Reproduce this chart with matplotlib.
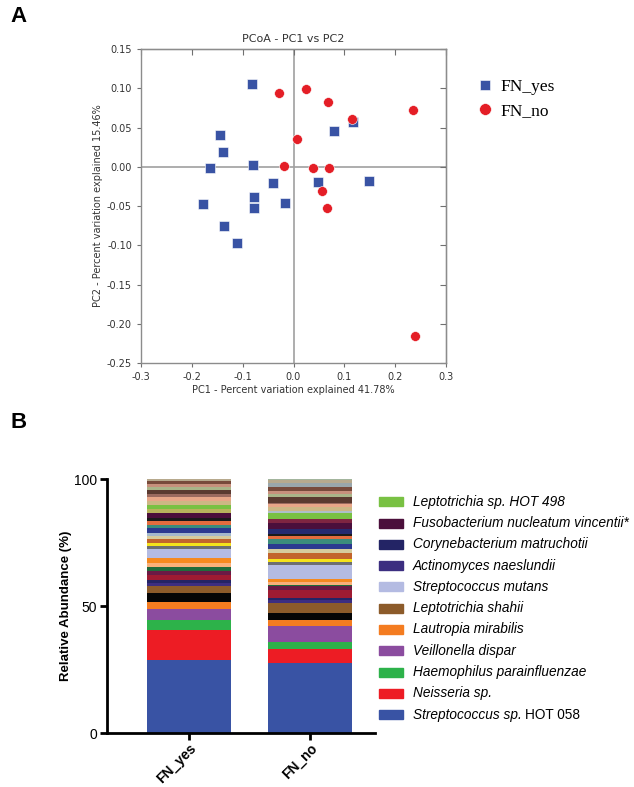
import matplotlib
matplotlib.use('Agg')
import matplotlib.pyplot as plt
from matplotlib.lines import Line2D
from matplotlib.patches import Rectangle

# ---- panel A data (PCoA coordinates) ----
yes_pc1 = [-0.081, -0.144, -0.139, -0.164, -0.080, -0.041, -0.077, -0.078,
           -0.179, -0.017, -0.137, -0.112, 0.080, 0.117, 0.048, 0.149]
yes_pc2 = [0.106, 0.040, 0.019, -0.001, 0.002, -0.021, -0.039, -0.052,
           -0.047, -0.046, -0.076, -0.097, 0.046, 0.057, -0.020, -0.018]
no_pc1 = [-0.028, 0.025, 0.006, -0.019, 0.038, 0.067, 0.115, 0.235,
          0.069, 0.056, 0.066, 0.239]
no_pc2 = [0.094, 0.099, 0.035, 0.001, -0.001, 0.082, 0.061, 0.072,
          -0.002, -0.031, -0.052, -0.215]

# ---- panel B data (relative abundance, stacked from the bottom) ----
groups = ['FN_yes', 'FN_no']
taxa = ['Streptococcus sp. HOT 058', 'Neisseria sp.', 'Haemophilus parainfluenzae',
        'Veillonella dispar', 'Lautropia mirabilis', 'Other 1', 'Leptotrichia shahii',
        'Actinomyces naeslundii', 'Corynebacterium matruchotii', 'Other 2', 'Other 3',
        'Other 4', 'Other 5', 'Other 6', 'Streptococcus mutans', 'Other 7', 'Other 8',
        'Other 9', 'Other 10', 'Other 11', 'Other 12', 'Other 13', 'Other 14', 'Other 15',
        'Other 16', 'Fusobacterium nucleatum vincentii*', 'Other 17', 'Other 18',
        'Leptotrichia sp. HOT 498', 'Other 19', 'Other 20', 'Other 21', 'Other 22',
        'Other 23', 'Other 24', 'Other 25', 'Other 26', 'Other 27', 'Other 28', 'Other 29']
fn_yes = [28.9, 11.6, 4.2, 4.3, 2.8, 3.5, 2.6, 1.3, 1.3, 2.0, 1.3, 1.7, 1.6, 2.0, 3.3,
          1.3, 1.3, 1.3, 1.3, 1.4, 1.9, 1.3, 1.3, 1.1, 0.2, 1.9, 0.2, 1.3, 1.5, 0.2,
          1.4, 1.7, 1.3, 1.3, 1.3, 1.3, 1.3, 0.0, 0.5, 0.0]
fn_no = [27.6, 5.6, 2.8, 6.4, 2.1, 2.9, 3.9, 1.0, 1.0, 3.3, 1.3, 0.6, 1.2, 1.1, 5.6,
         1.0, 1.3, 2.4, 1.3, 0.3, 2.0, 1.6, 1.3, 0.7, 2.0, 2.6, 1.3, 0.2, 2.3, 1.0,
         1.3, 1.3, 0.2, 2.4, 1.3, 1.3, 1.6, 1.3, 1.3, 0.3]
legend_taxa = ['Leptotrichia sp. HOT 498', 'Fusobacterium nucleatum vincentii*',
               'Corynebacterium matruchotii', 'Actinomyces naeslundii',
               'Streptococcus mutans', 'Leptotrichia shahii', 'Lautropia mirabilis',
               'Veillonella dispar', 'Haemophilus parainfluenzae', 'Neisseria sp.',
               'Streptococcus sp. HOT 058']

colors = ['#3953A4', '#ED1C24', '#2DB24A', '#8B4C9F', '#F47C20', '#050505', '#8C5B2A',
          '#3C2E80', '#232465', '#9E1B32', '#6A1A45', '#1F6B3B', '#F9B07A', '#F5891F',
          '#B4BBE2', '#6D6E71', '#F4E21B', '#C2642C', '#D5CB9E', '#A3B8CC', '#2B3990',
          '#3B8C7C', '#E46C3E', '#1B1B1B', '#262A70', '#4B0F3B', '#7F2541', '#B8B45C',
          '#79C143', '#AEBFC9', '#CDB785', '#E8A688', '#9B6A5F', '#5B3A30', '#A9B488',
          '#C7907C', '#784A3B', '#9AA6AA', '#B7A98D', '#A3B59D']

W, H = 634, 787
fig = plt.figure(figsize=(W / 100, H / 100), dpi=100)


def fx(x):
    return x / W


def fy(y):
    return 1 - y / H


# ================= panel A =================
ax = fig.add_axes([fx(141), fy(363), 305 / W, 314 / H])
ax.axhline(0, color='#a0a0a0', lw=1.2, zorder=0)
ax.axvline(0, color='#a0a0a0', lw=1.2, zorder=0)
ax.scatter(yes_pc1, yes_pc2, marker='s', s=42, color='#3953A4', edgecolor='white', lw=0.4, zorder=3)
ax.scatter(no_pc1, no_pc2, marker='o', s=50, color='#E41E26', edgecolor='white', lw=0.4, zorder=3)
ax.set_xlim(-0.3, 0.3)
ax.set_ylim(-0.25, 0.15)
xt = [-0.3, -0.2, -0.1, 0.0, 0.1, 0.2, 0.3]
yt = [-0.25, -0.2, -0.15, -0.1, -0.05, 0.0, 0.05, 0.1, 0.15]
ax.set_xticks(xt)
ax.set_xticklabels(['%.1f' % v for v in xt])
ax.set_yticks(yt)
ax.set_yticklabels(['%.2f' % v for v in yt])
for s in ax.spines.values():
    s.set_color('#8c8c8c')
    s.set_linewidth(1)
ax.tick_params(direction='out', length=3, color='#707070', labelcolor='#333333', labelsize=7)
top = ax.secondary_xaxis('top')
top.set_xticks(xt)
top.tick_params(direction='in', length=4, color='#707070', labeltop=False)
right = ax.secondary_yaxis('right')
right.set_yticks(yt)
right.tick_params(direction='in', length=4, color='#707070', labelright=False)
ax.set_title('PCoA - PC1 vs PC2', fontsize=8, color='#333333', pad=5)
ax.set_xlabel('PC1 - Percent variation explained 41.78%', fontsize=7, color='#333333', labelpad=2)
ax.set_ylabel('PC2 - Percent variation explained 15.46%', fontsize=7, color='#333333', labelpad=3)

handles = [Line2D([], [], ls='', marker='s', ms=7, color='#3953A4', mec='white', mew=0.4),
           Line2D([], [], ls='', marker='o', ms=8.5, color='#E41E26', mec='white', mew=0.4)]
fig.legend(handles, ['FN_yes', 'FN_no'], loc='upper left', bbox_to_anchor=(fx(462), fy(63)),
           frameon=False, handlelength=0.8, handletextpad=0.5, labelspacing=0.45,
           prop={'family': 'Liberation Serif', 'size': 12.5})

# ================= panel B =================
axb = fig.add_axes([fx(106.7), fy(733.3), (375 - 106.7) / W, 254 / H])
x = [0, 1]
bottoms = [0.0, 0.0]
for i in range(len(taxa)):
    vals = [fn_yes[i], fn_no[i]]
    axb.bar(x, vals, bottom=bottoms, width=0.69, color=colors[i], lw=0)
    bottoms = [bottoms[0] + vals[0], bottoms[1] + vals[1]]
axb.set_xlim(-0.673, 1.53)
axb.set_ylim(0, 100)
axb.spines['top'].set_visible(False)
axb.spines['right'].set_visible(False)
axb.spines['left'].set_linewidth(2)
axb.spines['bottom'].set_linewidth(2)
axb.set_yticks([0, 50, 100])
axb.set_xticks(x)
axb.set_xticklabels(groups, rotation=45, ha='right', rotation_mode='anchor',
                    fontweight='bold', fontsize=8.5, family='Liberation Sans')
axb.tick_params(width=2, length=5, labelsize=10)
axb.tick_params(axis='y', pad=2)
axb.tick_params(axis='x', pad=1)
for t in axb.get_yticklabels():
    t.set_family('Liberation Sans')
axb.set_ylabel('Relative Abundance (%)', fontsize=9.5, fontweight='bold',
               family='Liberation Sans', labelpad=1)

# legend for panel B
renderer = fig.canvas.get_renderer()
for k, name in enumerate(legend_taxa):
    yc = 501.7 + k * 21.3
    c = colors[taxa.index(name)]
    fig.patches.append(Rectangle((fx(379), fy(yc + 4.5)), 24 / W, 9 / H, color=c,
                                 transform=fig.transFigure, figure=fig))
    if name.endswith('HOT 058'):
        t1 = fig.text(fx(413), fy(yc), 'Streptococcus sp.', style='italic', fontsize=9.8,
                      family='Liberation Sans', va='center')
        bb = t1.get_window_extent(renderer)
        fig.text(bb.x1 / fig.dpi / fig.get_figwidth() + 3 / W, fy(yc), 'HOT 058',
                 fontsize=9.8, family='Liberation Sans', va='center')
    else:
        fig.text(fx(413), fy(yc), name, style='italic', fontsize=9.8,
                 family='Liberation Sans', va='center')

fig.text(fx(10), fy(16), 'A', fontsize=16, fontweight='bold', family='Liberation Sans', va='center')
fig.text(fx(10), fy(422), 'B', fontsize=16, fontweight='bold', family='Liberation Sans', va='center')

fig.savefig('out.png', dpi=100)
